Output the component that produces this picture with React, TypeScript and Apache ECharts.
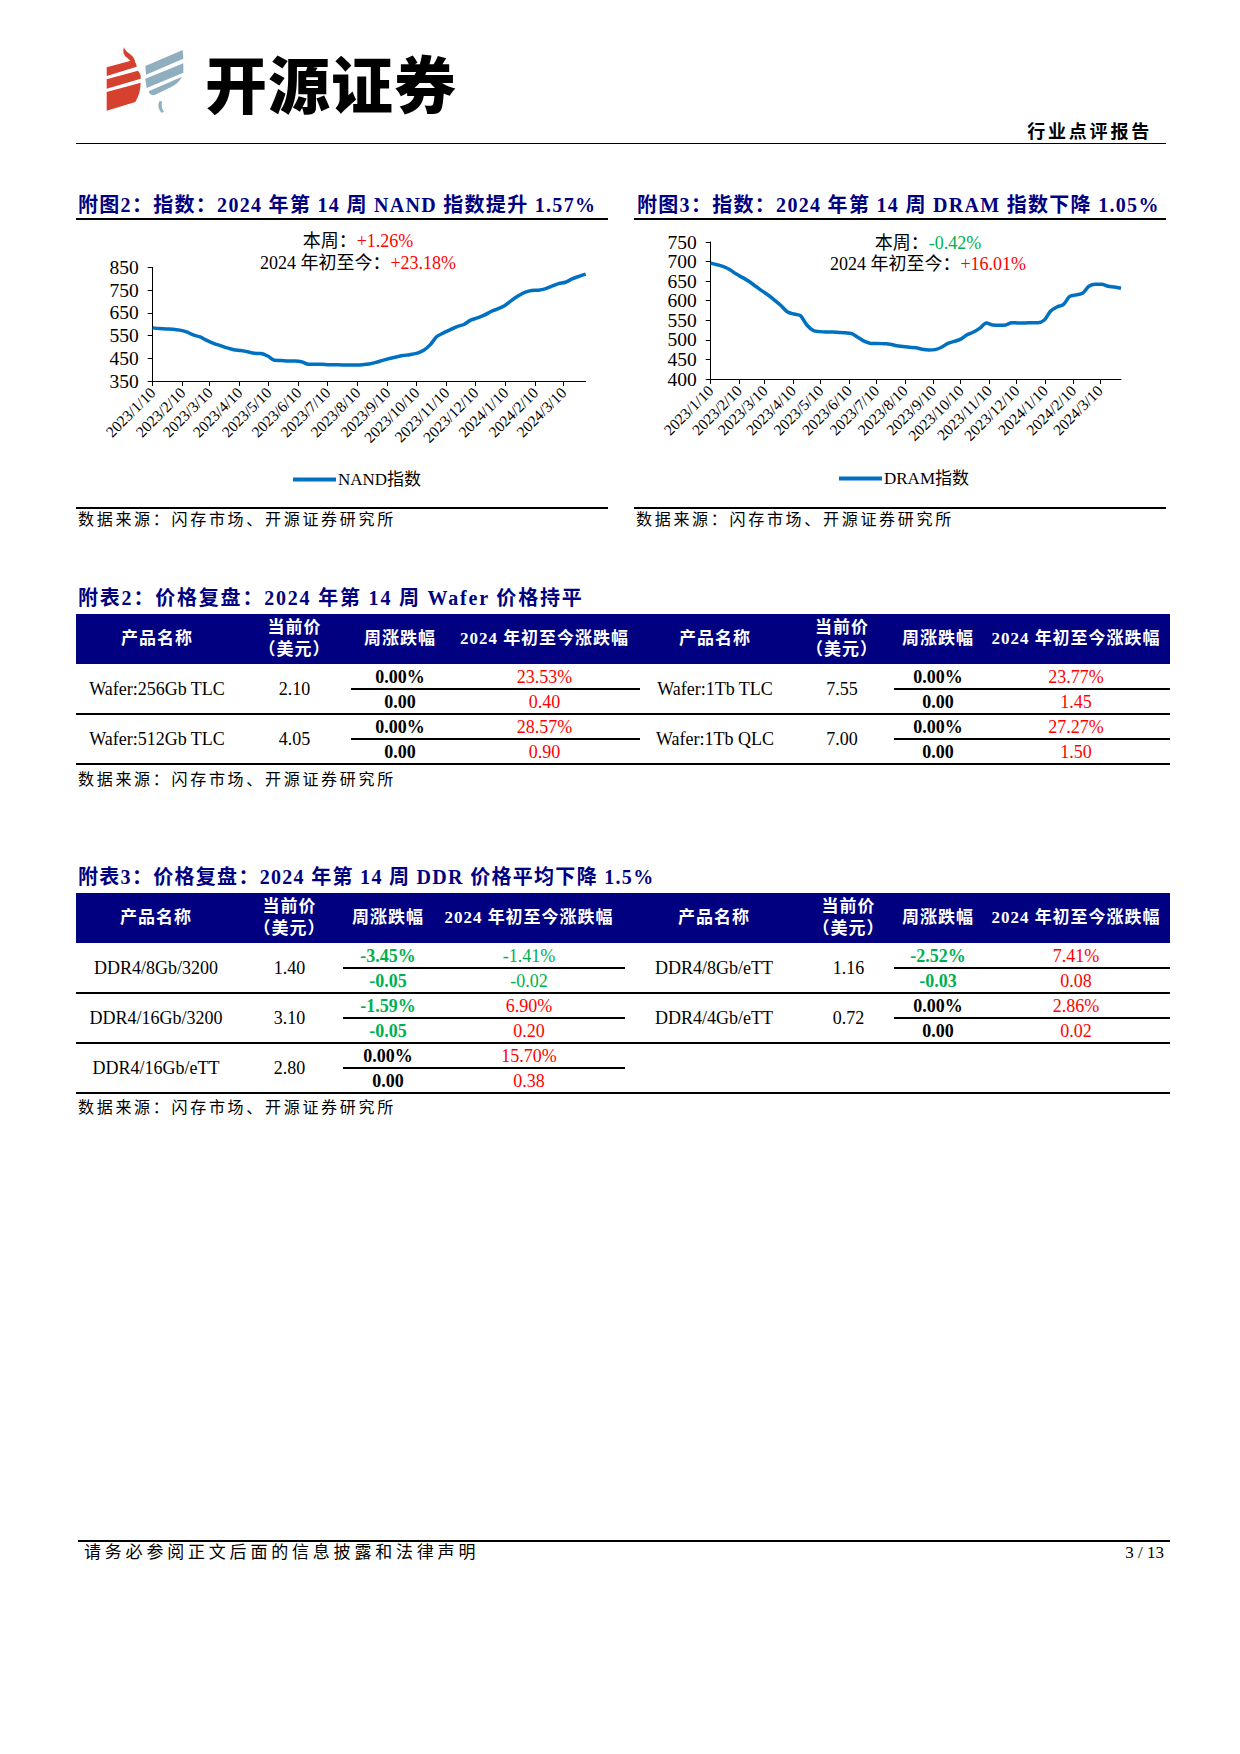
import React, { useEffect, useRef } from "react";
import * as echarts from "echarts";

// ---------------- DATA ----------------
const START_DATE = "2023-01-10";
const END_DATE = "2024-04-02";
const WEEK_STEP_DAYS = 7;

const NAND_NAME = "NAND指数";
const NAND_INDEX = [
  584, 581, 579, 578, 574, 566, 553, 544, 529, 516, 506, 496, 488, 484, 479, 472, 471, 460, 441, 440,
  438, 438, 435, 424, 424, 424, 422, 422, 421, 421, 421, 422, 425, 432, 441, 449, 456, 462, 466, 472,
  484, 509, 546, 562, 576, 590, 599, 618, 628, 640, 656, 668, 682, 704, 724, 740, 749, 750, 756, 768,
  779, 785, 800, 811, 821,
];
const NAND_WEEK = "+1.26%";
const NAND_YTD = "+23.18%";
const NAND_Y = { min: 350, max: 850, interval: 100 };

const DRAM_NAME = "DRAM指数";
const DRAM_INDEX = [
  696, 692, 687, 679, 668, 659, 649, 637, 625, 614, 601, 587, 571, 566, 562, 538, 524, 521, 520, 520,
  519, 518, 516, 506, 496, 491, 491, 490, 489, 485, 483, 481, 480, 476, 474, 475, 481, 491, 496, 502,
  513, 520, 530, 543, 538, 537, 538, 544, 543, 543, 544, 544, 550, 573, 584, 590, 611, 615, 619, 637,
  642, 642, 637, 635, 632,
];
const DRAM_WEEK = "-0.42%";
const DRAM_YTD = "+16.01%";
const DRAM_Y = { min: 400, max: 750, interval: 50 };

const WAFER_PRODUCTS = ["Wafer:256Gb TLC", "Wafer:512Gb TLC", "Wafer:1Tb TLC", "Wafer:1Tb QLC"];
const WAFER_PRICE = [2.1, 4.05, 7.55, 7.0];
const WAFER_WEEK_PCT = [0.0, 0.0, 0.0, 0.0];
const WAFER_WEEK_CHG = [0.0, 0.0, 0.0, 0.0];
const WAFER_YTD_PCT = [23.53, 28.57, 23.77, 27.27];
const WAFER_YTD_CHG = [0.4, 0.9, 1.45, 1.5];
const WAFER_LEFT_COUNT = 2;

const DDR_PRODUCTS = ["DDR4/8Gb/3200", "DDR4/16Gb/3200", "DDR4/16Gb/eTT", "DDR4/8Gb/eTT", "DDR4/4Gb/eTT"];
const DDR_PRICE = [1.4, 3.1, 2.8, 1.16, 0.72];
const DDR_WEEK_PCT = [-3.45, -1.59, 0.0, -2.52, 0.0];
const DDR_WEEK_CHG = [-0.05, -0.05, 0.0, -0.03, 0.0];
const DDR_YTD_PCT = [-1.41, 6.9, 15.7, 7.41, 2.86];
const DDR_YTD_CHG = [-0.02, 0.2, 0.38, 0.08, 0.02];
const DDR_LEFT_COUNT = 3;

const TABLE_HEADERS: (string | string[])[] = [
  "产品名称", ["当前价", "（美元）"], "周涨跌幅", "2024 年初至今涨跌幅",
  "产品名称", ["当前价", "（美元）"], "周涨跌幅", "2024 年初至今涨跌幅",
];

// ---------------- STYLE ----------------
const SERIF = "'Liberation Serif','Times New Roman','Noto Sans CJK SC',serif";
const NAVY = "#000080";
const BLUE = "#0070C0";
const RED = "#FF0000";
const GREEN = "#00B050";
const PAGE_W = 1240;

function buildDays(start: string, end: string): string[] {
  const s = new Date(start + "T00:00:00Z").getTime();
  const e = new Date(end + "T00:00:00Z").getTime();
  const out: string[] = [];
  for (let t = s; t <= e; t += 86400000) {
    const d = new Date(t);
    out.push(`${d.getUTCFullYear()}/${d.getUTCMonth() + 1}/${d.getUTCDate()}`);
  }
  return out;
}
const DAYS = buildDays(START_DATE, END_DATE);
const isTenth = (_i: number, v: string) => /\/10$/.test(v);

function makeOption(cfg: any) {
  const axisLineStyle = { color: "#000", width: 1 };
  return {
    animation: false,
    grid: cfg.grid,
    xAxis: {
      type: "category",
      data: DAYS,
      boundaryGap: false,
      axisLine: { show: true, lineStyle: axisLineStyle },
      axisTick: { show: true, interval: isTenth, length: 5, lineStyle: axisLineStyle },
      axisLabel: {
        interval: isTenth,
        rotate: 45,
        fontSize: 15.5,
        fontFamily: SERIF,
        color: "#000",
        margin: 9,
      },
      splitLine: { show: false },
    },
    yAxis: {
      type: "value",
      min: cfg.y.min,
      max: cfg.y.max,
      interval: cfg.y.interval,
      axisLine: { show: true, lineStyle: axisLineStyle },
      axisTick: { show: true, length: 5, lineStyle: axisLineStyle },
      axisLabel: { fontSize: 19.5, fontFamily: SERIF, color: "#000", margin: 14 },
      splitLine: { show: false },
    },
    legend: {
      show: true,
      data: [cfg.name],
      left: cfg.legendLeft,
      top: cfg.legendTop,
      icon: "rect",
      itemWidth: 43,
      itemHeight: 4,
      textStyle: { fontSize: 17, fontFamily: SERIF, color: "#000", padding: [0, 0, 0, -3] },
    },
    graphic: [
      {
        type: "text",
        x: cfg.noteX,
        y: cfg.noteY1,
        style: {
          text: `{k|本周：}{v|${cfg.week}}`,
          align: "center",
          verticalAlign: "middle",
          rich: {
            k: { fontSize: 18, fontFamily: SERIF, fill: "#000", color: "#000" },
            v: {
              fontSize: 18,
              fontFamily: SERIF,
              fill: cfg.week.startsWith("-") ? GREEN : RED,
              color: cfg.week.startsWith("-") ? GREEN : RED,
            },
          },
        },
      },
      {
        type: "text",
        x: cfg.noteX,
        y: cfg.noteY2,
        style: {
          text: `{k|2024 年初至今：}{v|${cfg.ytd}}`,
          align: "center",
          verticalAlign: "middle",
          rich: {
            k: { fontSize: 18, fontFamily: SERIF, fill: "#000", color: "#000" },
            v: { fontSize: 18, fontFamily: SERIF, fill: RED, color: RED },
          },
        },
      },
    ],
    series: [
      {
        type: "line",
        name: cfg.name,
        data: cfg.values.map((v: number, i: number) => [i * WEEK_STEP_DAYS, v]),
        symbol: "none",
        showSymbol: false,
        smooth: 0.3,
        connectNulls: true,
        lineStyle: { color: BLUE, width: 3.5 },
        itemStyle: { color: BLUE },
      },
    ],
  };
}

function EChart({ left, top, width, height, option }: any) {
  const ref = useRef<HTMLDivElement>(null);
  useEffect(() => {
    const chart = echarts.init(ref.current!, undefined, { renderer: "svg" });
    chart.setOption(option);
    return () => chart.dispose();
  }, []);
  return <div ref={ref} style={{ position: "absolute", left, top, width, height }} />;
}

function Txt({ x, y, size = 16, bold = false, color = "#000", align = "left", spacing = 0, family = SERIF, children }: any) {
  const h = Math.round(size * 1.5);
  const style: React.CSSProperties = {
    position: "absolute",
    top: y - h / 2,
    height: h,
    lineHeight: h + "px",
    fontSize: size,
    fontWeight: bold ? 700 : 400,
    color,
    whiteSpace: "nowrap",
    letterSpacing: spacing,
    fontFamily: family,
  };
  if (align === "left") style.left = x;
  else if (align === "right") {
    style.right = PAGE_W - x;
    style.textAlign = "right";
  } else {
    style.left = x - 300;
    style.width = 600;
    style.textAlign = "center";
  }
  return <div style={style}>{children}</div>;
}

function HLine({ x1, x2, y, w = 1.3, color = "#000" }: any) {
  return <div style={{ position: "absolute", left: x1, top: y - w / 2, width: x2 - x1, height: w, background: color }} />;
}

const colorOf = (v: number) => (v < 0 ? GREEN : v > 0 ? RED : "#000");

function PriceTable({ top, cols, leftCount, names, price, weekPct, weekChg, ytdPct, ytdChg }: any) {
  const headerH = 50;
  const rowH = 50;
  const els: any[] = [];
  els.push(
    <div key="hdr" style={{ position: "absolute", left: cols[0], top, width: cols[8] - cols[0], height: headerH, background: NAVY }} />
  );
  TABLE_HEADERS.forEach((h, i) => {
    const cx = (cols[i] + cols[i + 1]) / 2;
    if (Array.isArray(h)) {
      els.push(<Txt key={"h" + i + "a"} x={cx} y={top + 14} size={17} bold color="#fff" align="center" spacing={1}>{h[0]}</Txt>);
      els.push(<Txt key={"h" + i + "b"} x={cx} y={top + 36} size={17} bold color="#fff" align="center" spacing={1}>{h[1]}</Txt>);
    } else {
      els.push(<Txt key={"h" + i} x={cx} y={top + 25} size={17} bold color="#fff" align="center" spacing={1}>{h}</Txt>);
    }
  });
  const bodyTop = top + headerH;
  const rightCount = names.length - leftCount;
  const nRows = Math.max(leftCount, rightCount);
  names.forEach((name: string, k: number) => {
    const side = k < leftCount ? 0 : 1;
    const r = side === 0 ? k : k - leftCount;
    const o = side * 4;
    const rt = bodyTop + r * rowH;
    const c = (j: number) => (cols[o + j] + cols[o + j + 1]) / 2;
    els.push(<Txt key={"n" + k} x={c(0)} y={rt + 25} size={18} align="center">{name}</Txt>);
    els.push(<Txt key={"p" + k} x={c(1)} y={rt + 25} size={18} align="center">{price[k].toFixed(2)}</Txt>);
    els.push(<Txt key={"wp" + k} x={c(2)} y={rt + 13.5} size={18} bold align="center" color={colorOf(weekPct[k])}>{weekPct[k].toFixed(2) + "%"}</Txt>);
    els.push(<Txt key={"wc" + k} x={c(2)} y={rt + 38.5} size={18} bold align="center" color={colorOf(weekChg[k])}>{weekChg[k].toFixed(2)}</Txt>);
    els.push(<Txt key={"yp" + k} x={c(3)} y={rt + 13.5} size={18} align="center" color={colorOf(ytdPct[k])}>{ytdPct[k].toFixed(2) + "%"}</Txt>);
    els.push(<Txt key={"yc" + k} x={c(3)} y={rt + 38.5} size={18} align="center" color={colorOf(ytdChg[k])}>{ytdChg[k].toFixed(2)}</Txt>);
    els.push(<HLine key={"s" + k} x1={cols[o + 2]} x2={cols[o + 4]} y={rt + 25} />);
  });
  for (let r = 0; r < nRows; r++) {
    els.push(<HLine key={"r" + r} x1={cols[0]} x2={cols[8]} y={bodyTop + (r + 1) * rowH} />);
  }
  return <>{els}</>;
}

function Logo() {
  return (
    <svg style={{ position: "absolute", left: 100, top: 44 }} width={90} height={76} viewBox="0 0 270 228">
      <g fill="#D6402F">
        <path d="M72,10 Q64,30 82,42 Q92,50 96,58 L106,52 Q102,38 90,30 Q76,22 72,10 Z" />
        <path d="M20,70 L98,49 Q110,56 110,68 L20,96 Z" />
        <path d="M20,106 L114,80 Q124,92 122,104 L20,134 Z" />
        <path d="M20,144 L122,116 Q122,146 106,174 L20,200 Z" />
      </g>
      <g fill="#8FAEBF">
        <path d="M136,66 L248,18 L250,44 L138,92 Z" />
        <path d="M136,104 L250,58 L250,86 L140,132 Z" />
        <path d="M146,142 L246,98 Q236,118 212,130 L170,150 Q152,160 146,142 Z" />
        <path d="M178,172 Q170,190 184,206 L192,204 Q182,190 186,172 Z" />
      </g>
    </svg>
  );
}

const NAND_OPTION = makeOption({
  name: NAND_NAME,
  values: NAND_INDEX,
  y: NAND_Y,
  grid: { left: 76.7, top: 45.5, width: 433, height: 113.5 },
  legendLeft: 212,
  legendTop: 244,
  noteX: 282,
  noteY1: 19,
  noteY2: 41,
  week: NAND_WEEK,
  ytd: NAND_YTD,
});

const DRAM_OPTION = makeOption({
  name: DRAM_NAME,
  values: DRAM_INDEX,
  y: DRAM_Y,
  grid: { left: 76.7, top: 20, width: 410.3, height: 137 },
  legendLeft: 200,
  legendTop: 243,
  noteX: 294,
  noteY1: 21,
  noteY2: 42,
  week: DRAM_WEEK,
  ytd: DRAM_YTD,
});

const SOURCE = "数据来源：闪存市场、开源证券研究所";

export default function App() {
  return (
    <div style={{ position: "absolute", left: 0, top: 0, width: PAGE_W, height: 1754, background: "#fff", fontFamily: SERIF, overflow: "hidden" }}>
      {/* Header */}
      <Logo />
      <Txt x={205} y={82} size={62} family="'Noto Sans CJK SC',sans-serif" spacing={1}>
        <span style={{ fontWeight: 900 }}>开源证券</span>
      </Txt>
      <Txt x={1152} y={132} size={18} bold align="right" spacing={2.8}>行业点评报告</Txt>
      <HLine x1={76} x2={1166} y={143.5} w={1.5} />

      {/* Chart titles */}
      <Txt x={78} y={205} size={20} bold color={NAVY} spacing={1.3}>附图2：指数：2024 年第 14 周 NAND 指数提升 1.57%</Txt>
      <HLine x1={76} x2={608} y={219} w={1.5} />
      <Txt x={637} y={205} size={20} bold color={NAVY} spacing={1.3}>附图3：指数：2024 年第 14 周 DRAM 指数下降 1.05%</Txt>
      <HLine x1={634} x2={1166} y={219} w={1.5} />

      <EChart left={76} top={222} width={533} height={284} option={NAND_OPTION} />
      <EChart left={634} top={222} width={533} height={284} option={DRAM_OPTION} />

      <HLine x1={76} x2={608} y={508} w={1.2} />
      <HLine x1={634} x2={1166} y={508} w={1.2} />
      <Txt x={78} y={520} size={16} spacing={2.7}>{SOURCE}</Txt>
      <Txt x={636} y={520} size={16} spacing={2.7}>{SOURCE}</Txt>

      {/* Table 1 */}
      <Txt x={78} y={598} size={20} bold color={NAVY} spacing={1.8}>附表2：价格复盘：2024 年第 14 周 Wafer 价格持平</Txt>
      <PriceTable
        top={614}
        cols={[76, 238, 351, 449, 640, 790, 894, 982, 1170]}
        leftCount={WAFER_LEFT_COUNT}
        names={WAFER_PRODUCTS}
        price={WAFER_PRICE}
        weekPct={WAFER_WEEK_PCT}
        weekChg={WAFER_WEEK_CHG}
        ytdPct={WAFER_YTD_PCT}
        ytdChg={WAFER_YTD_CHG}
      />
      <Txt x={78} y={780} size={16} spacing={2.7}>{SOURCE}</Txt>

      {/* Table 2 */}
      <Txt x={78} y={877} size={20} bold color={NAVY} spacing={1.3}>附表3：价格复盘：2024 年第 14 周 DDR 价格平均下降 1.5%</Txt>
      <PriceTable
        top={893}
        cols={[76, 236, 343, 433, 625, 803, 894, 982, 1170]}
        leftCount={DDR_LEFT_COUNT}
        names={DDR_PRODUCTS}
        price={DDR_PRICE}
        weekPct={DDR_WEEK_PCT}
        weekChg={DDR_WEEK_CHG}
        ytdPct={DDR_YTD_PCT}
        ytdChg={DDR_YTD_CHG}
      />
      <Txt x={78} y={1108} size={16} spacing={2.7}>{SOURCE}</Txt>

      {/* Footer */}
      <HLine x1={78} x2={1170} y={1541} w={2.5} />
      <Txt x={84} y={1553} size={17} spacing={3.8}>请务必参阅正文后面的信息披露和法律声明</Txt>
      <Txt x={1164} y={1553} size={17} align="right">3 / 13</Txt>
    </div>
  );
}
